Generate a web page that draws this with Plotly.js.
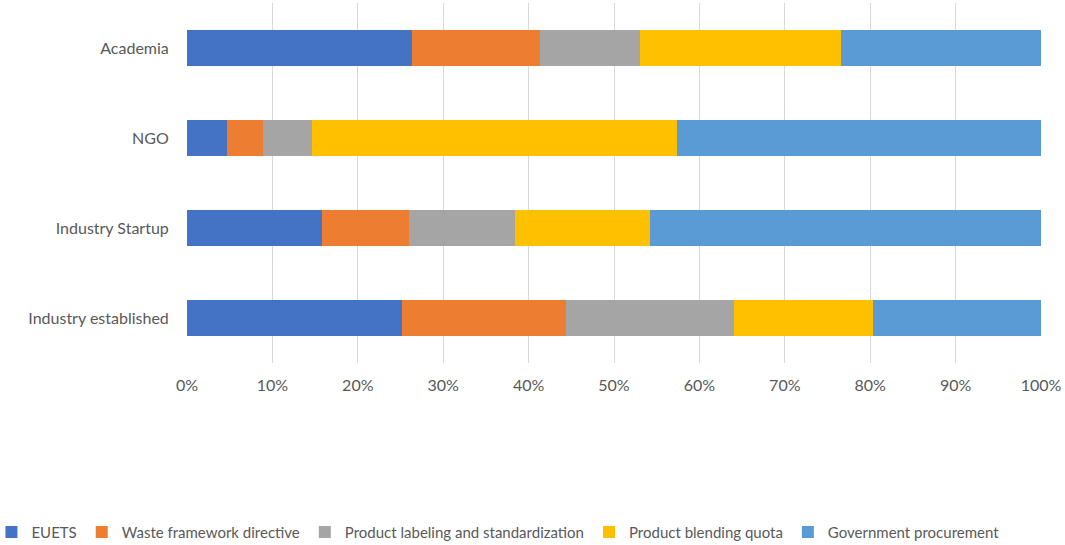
<!DOCTYPE html>
<html>
<head>
<meta charset="utf-8">
<script src="https://cdn.plot.ly/plotly-3.0.1.min.js"></script>
<style>
  html, body { margin: 0; padding: 0; background: #fff; }
  #chart { width: 1065px; height: 545px; }
</style>
</head>
<body>
<div id="chart"></div>
<script>
// stakeholder groups, top to bottom
const groups = ['Academia', 'NGO', 'Industry Startup', 'Industry established'];

// share of each policy instrument per group (%)
const euets = [26.3, 4.7, 15.8, 25.2];
const wasteDirective = [15.0, 4.2, 10.2, 19.2];
const labeling = [11.8, 5.7, 12.4, 19.6];
const blendingQuota = [23.5, 42.8, 15.8, 16.3];
const procurement = [23.4, 42.6, 45.8, 19.7];

const tickVals = [0, 10, 20, 30, 40, 50, 60, 70, 80, 90, 100];
const tickText = ['0%', '10%', '20%', '30%', '40%', '50%', '60%', '70%', '80%', '90%', '100%'];

const series = [
    { name: 'EUETS', values: euets, color: '#4472C4' },
    { name: 'Waste framework directive', values: wasteDirective, color: '#ED7D31' },
    { name: 'Product labeling and standardization', values: labeling, color: '#A5A5A5' },
    { name: 'Product blending quota', values: blendingQuota, color: '#FFC000' },
    { name: 'Government procurement', values: procurement, color: '#5B9BD5' },
];

const traces = series.map(s => ({
    type: 'bar',
    orientation: 'h',
    name: s.name,
    x: s.values,
    y: groups,
    marker: { color: s.color, line: { width: 0 } },
    hoverinfo: 'name+x',
}));

const layout = {
    width: 1065,
    height: 545,
    barmode: 'stack',
    barnorm: 'percent',
    bargap: 0.59,
    margin: { l: 187, r: 24, t: 3, b: 182, autoexpand: false },
    paper_bgcolor: '#fff',
    plot_bgcolor: '#fff',
    font: { family: 'Lato, "Open Sans", sans-serif', size: 16, color: '#595959' },
    xaxis: {
        range: [0, 100],
        tickvals: tickVals,
        ticktext: tickText,
        tickangle: 0,
        showgrid: true,
        gridcolor: '#D9D9D9',
        gridwidth: 1,
        zeroline: false,
        showline: false,
        ticks: 'outside',
        ticklen: 8,
        tickcolor: 'rgba(0,0,0,0)',
        fixedrange: true,
    },
    yaxis: {
        autorange: 'reversed',
        showgrid: false,
        zeroline: false,
        ticks: 'outside',
        ticklen: 14,
        tickcolor: 'rgba(0,0,0,0)',
        fixedrange: true,
    },
    legend: {
        orientation: 'h',
        x: -0.229,
        xanchor: 'left',
        y: -0.47,
        yanchor: 'middle',
        traceorder: 'normal',
        itemwidth: 30,
        font: { size: 15, color: '#595959' },
    },
    showlegend: true,
};

Plotly.newPlot('chart', traces, layout, { displayModeBar: false, staticPlot: true });
</script>
</body>
</html>
